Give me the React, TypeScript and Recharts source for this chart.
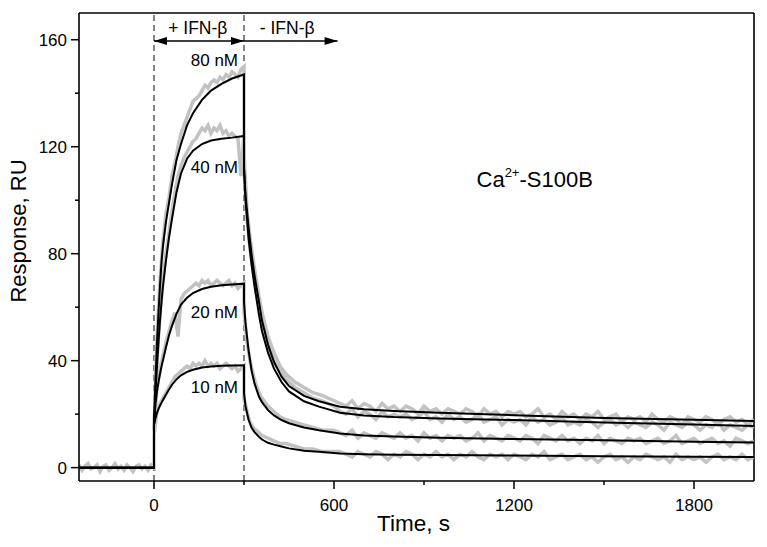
import React from "react";
import { LineChart, Line, XAxis, YAxis, ReferenceLine, ReferenceDot } from "recharts";

// time points (s)
const baseFitT = [-250, 0];
const assocFitT = [0, 5, 10, 15, 20, 25, 30, 40, 50, 60, 75, 90, 110, 130, 160, 190, 225, 260, 300];
const dissFitT = [300, 305, 315, 325, 335, 350, 360, 380, 400, 425, 450, 500, 550, 620, 700, 800, 950, 1200, 1500, 1800, 2000];

// fitted curves (RU)
const fit80Assoc = [17, 33, 47, 58, 68, 77, 83, 92, 99, 106, 115, 121, 128, 132.5, 137.5, 141, 143.5, 145.5, 147];
const fit40Assoc = [17, 28, 38, 47, 55, 62, 68, 77.6, 86, 93, 103, 110, 115.5, 118.5, 121, 122.3, 123, 123.4, 124];
const fit20Assoc = [16, 24, 28.5, 32, 35, 37.8, 40.2, 45, 49.5, 53, 57.5, 61, 63.5, 65.3, 66.8, 67.6, 68.2, 68.5, 68.8];
const fit10Assoc = [16, 18.5, 20.5, 22, 23.2, 24.3, 25.3, 27.3, 29.2, 31, 33, 34.5, 35.8, 36.6, 37.4, 37.8, 38.1, 38.2, 38.3];

const fit80Diss = [112, 102, 90, 80, 72, 62, 55, 46, 39.5, 34, 30.5, 26.8, 24.8, 22.8, 21.8, 21.2, 20.5, 19.6, 18.6, 17.9, 17.4];
const fit40Diss = [112, 100, 86, 76, 68, 57, 51, 43, 37, 32, 28.5, 24.8, 22.8, 20.5, 19.5, 18.9, 18.4, 17.8, 16.9, 16.1, 15.6];
const fit20Diss = [62, 54, 44, 36.5, 31.5, 26.5, 24.5, 21.5, 19.5, 17.8, 16.6, 15, 14, 12.8, 12, 11.6, 11.2, 10.7, 10.2, 9.7, 9.4];
const fit10Diss = [27.8, 23, 18, 15, 13.3, 11.5, 10.5, 9.3, 8.6, 7.9, 7.2, 6.3, 5.9, 5.3, 5, 4.8, 4.7, 4.5, 4.3, 4.1, 4.0];

// measured traces (RU)
const expBaseT = [-250, -240, -230, -220, -210, -200, -190, -180, -170, -160, -150, -140, -130, -120, -110, -100, -90, -80, -70, -60, -50, -40, -30, -20, -10, 0];
const expBase = [1, -1, 0.5, 1.5, -0.5, 0, 1, -1.5, 0.5, 1, -1, 0, 1.5, -0.5, 0.5, -1, 1, 0, -1.5, 0.5, 1, -0.5, 0.5, -1, 1, 0];

const expAssocT = [0, 10, 20, 30, 40, 50, 60, 70, 80, 90, 100, 110, 120, 130, 140, 150, 160, 170, 180, 190, 200, 210, 220, 230, 240, 250, 260, 270, 280, 290, 300];
const exp80Assoc = [14, 49, 70, 85, 95, 101, 109, 114, 120, 125, 128, 131, 134, 137, 138, 139, 141, 143, 142, 144, 145, 144, 146, 145, 147, 146, 148, 147, 146, 149, 150];
const exp40Assoc = [14, 40, 57, 70, 80, 88, 96, 103, 109, 113, 116, 118, 120, 122, 123, 125, 127, 126, 128, 125, 127, 126, 128, 125, 126, 124, 125, 124, 123, 109, 125];
const exp20Assoc = [13, 30, 37, 42, 47, 51, 55, 58, 49, 63, 65, 66, 67, 68, 69, 68, 70, 69, 70, 68, 69, 70, 69, 68, 69, 70, 68, 69, 67, 68, 69];
const exp10Assoc = [12, 21, 24, 26, 28, 30, 32, 34, 35, 36, 37, 38, 37, 39, 38, 39, 38, 40, 38, 39, 38, 39, 37, 38, 39, 38, 37, 38, 36, 37, 38];

const expDissT = [300, 310, 320, 330, 340, 350, 360, 380, 400, 420, 440, 470, 500, 530, 560, 600,
  620, 640, 660, 680, 700, 720, 740, 760, 780, 800,
  820, 840, 860, 880, 900, 920, 940, 960, 980, 1000,
  1020, 1040, 1060, 1080, 1100, 1120, 1140, 1160, 1180, 1200,
  1220, 1240, 1260, 1280, 1300, 1320, 1340, 1360, 1380, 1400,
  1420, 1440, 1460, 1480, 1500, 1520, 1540, 1560, 1580, 1600,
  1620, 1640, 1660, 1680, 1700, 1720, 1740, 1760, 1780, 1800,
  1820, 1840, 1860, 1880, 1900, 1920, 1940, 1960, 1980, 2000];
const exp80Diss = [118, 96, 86, 78, 71, 64, 58, 49, 43, 38, 35, 32, 30, 28, 27, 25,
  24, 23, 25, 22, 24, 23, 21, 24, 22, 23,
  21, 23, 22, 20, 23, 21, 22, 20, 22, 21,
  20, 22, 21, 19, 22, 20, 21, 19, 21, 20,
  21, 19, 20, 22, 19, 20, 18, 21, 19, 20,
  18, 20, 19, 21, 18, 19, 20, 17, 19, 18,
  19, 17, 20, 18, 17, 19, 18, 16, 19, 18,
  17, 19, 18, 16, 18, 19, 17, 18, 16, 18];
const exp40Diss = [112, 93, 82, 74, 66, 60, 54, 46, 40, 36, 33, 30, 28, 26, 25, 23,
  21, 20, 22, 19, 21, 20, 18, 21, 19, 20,
  19, 20, 18, 19, 21, 18, 19, 17, 20, 18,
  19, 17, 18, 20, 17, 18, 19, 16, 18, 17,
  18, 16, 19, 17, 18, 16, 17, 19, 16, 17,
  16, 18, 17, 15, 17, 18, 16, 17, 15, 17,
  16, 15, 17, 16, 14, 17, 16, 15, 17, 16,
  14, 16, 15, 17, 14, 16, 15, 14, 16, 15];
const exp20Diss = [58, 47, 40, 35, 31, 28, 26, 23, 21, 19, 18, 17, 16, 15, 14, 14,
  13, 12, 14, 11, 13, 12, 11, 13, 12, 11,
  13, 11, 12, 10, 13, 11, 12, 10, 12, 11,
  12, 10, 11, 13, 10, 12, 11, 10, 12, 11,
  10, 12, 11, 9, 12, 11, 10, 12, 10, 11,
  9, 11, 10, 12, 9, 11, 10, 9, 11, 10,
  11, 9, 10, 11, 9, 10, 12, 9, 10, 11,
  9, 10, 11, 9, 10, 8, 11, 10, 9, 10];
const exp10Diss = [26, 21, 17, 15, 14, 13, 12, 11, 10, 9, 9, 8, 7, 7, 6, 6,
  6, 5, 4, 6, 5, 4, 6, 5, 3, 5,
  4, 6, 5, 3, 5, 4, 6, 4, 5, 3,
  5, 4, 6, 4, 3, 5, 4, 5, 3, 5,
  4, 3, 5, 4, 6, 3, 4, 5, 3, 4,
  5, 3, 4, 2, 4, 5, 3, 4, 2, 4,
  3, 5, 4, 3, 4, 2, 5, 3, 4, 3,
  4, 2, 4, 5, 3, 4, 3, 5, 3, 4];

const xTicks = [0, 300, 600, 900, 1200, 1500, 1800];
const yTicks = [0, 20, 40, 60, 80, 100, 120, 140, 160];

const font = "'Liberation Sans', Arial, sans-serif";

const pts = (ts: number[], vs: number[]) => ts.map((t, i) => ({ t, v: vs[i] }));

const fitCurve = (a: number[], d: number[]) => [
  ...pts(baseFitT, [0, 0]),
  ...pts(assocFitT, a),
  ...pts(dissFitT, d),
];
const expCurve = (a: number[], d: number[], withBase: boolean) => [
  ...(withBase ? pts(expBaseT, expBase) : []),
  ...pts(expAssocT, a),
  ...pts(expDissT, d),
];

const fits = [
  fitCurve(fit80Assoc, fit80Diss),
  fitCurve(fit40Assoc, fit40Diss),
  fitCurve(fit20Assoc, fit20Diss),
  fitCurve(fit10Assoc, fit10Diss),
];
const traces = [
  expCurve(exp80Assoc, exp80Diss, false),
  expCurve(exp40Assoc, exp40Diss, false),
  expCurve(exp20Assoc, exp20Diss, false),
  expCurve(exp10Assoc, exp10Diss, true),
];

const concLabels = [
  { text: "80 nM", x: 280, y: 150 },
  { text: "40 nM", x: 280, y: 110 },
  { text: "20 nM", x: 280, y: 56 },
  { text: "10 nM", x: 280, y: 28 },
];

const YTick = (props: any) => {
  const { x, y, payload } = props;
  const major = payload.value % 40 === 0;
  return (
    <g>
      <line x1={x} y1={y} x2={x - (major ? 8 : 4)} y2={y} stroke="#000" strokeWidth={1.5} />
      {major && (
        <text x={x - 12} y={y + 6} textAnchor="end" fontSize={17} fontFamily={font} fill="#000">
          {payload.value}
        </text>
      )}
    </g>
  );
};

const XTick = (props: any) => {
  const { x, y, payload } = props;
  const major = payload.value % 600 === 0;
  return (
    <g>
      <line x1={x} y1={y} x2={x} y2={y + (major ? 8 : 4)} stroke="#000" strokeWidth={1.5} />
      {major && (
        <text x={x} y={y + 30} textAnchor="middle" fontSize={17} fontFamily={font} fill="#000">
          {payload.value}
        </text>
      )}
    </g>
  );
};

const Arrow = (both: boolean) => (p: any) => {
  const { x1, y1, x2 } = p;
  return (
    <g>
      <line x1={x1} y1={y1} x2={x2} y2={y1} stroke="#000" strokeWidth={1.5} />
      <polygon points={`${x2},${y1} ${x2 - 13},${y1 - 4} ${x2 - 13},${y1 + 4}`} fill="#000" />
      {both && <polygon points={`${x1},${y1} ${x1 + 13},${y1 - 4} ${x1 + 13},${y1 + 4}`} fill="#000" />}
    </g>
  );
};

export default function App() {
  return (
    <div style={{ position: "absolute", left: 0, top: 0, background: "#fff" }}>
      <LineChart width={767} height={547} margin={{ top: 13, right: 13, bottom: 0, left: 0 }}>
        <XAxis
          type="number"
          dataKey="t"
          domain={[-250, 2000]}
          allowDataOverflow
          ticks={xTicks}
          interval={0}
          tickSize={0}
          tickMargin={0}
          tickLine={false}
          tick={<XTick />}
          height={66}
          axisLine={{ stroke: "#000", strokeWidth: 1.6 }}
          label={{
            content: (p: any) => (
              <text x={p.viewBox.x + p.viewBox.width / 2 - 3} y={p.viewBox.y + 50} textAnchor="middle" fontSize={22.5} fontFamily={font} fill="#000">
                Time, s
              </text>
            ),
          }}
        />
        <YAxis
          type="number"
          domain={[-5, 170]}
          allowDataOverflow
          ticks={yTicks}
          interval={0}
          tickSize={0}
          tickMargin={0}
          tickLine={false}
          tick={<YTick />}
          width={79}
          axisLine={{ stroke: "#000", strokeWidth: 1.6 }}
          label={{
            content: (p: any) => (
              <text
                transform={`translate(${p.viewBox.x + 26},${p.viewBox.y + p.viewBox.height / 2 - 16}) rotate(-90)`}
                textAnchor="middle"
                fontSize={22}
                fontFamily={font}
                fill="#000"
              >
                Response, RU
              </text>
            ),
          }}
        />
        <ReferenceLine y={170} stroke="#000" strokeWidth={1.6} ifOverflow="visible" />
        <ReferenceLine x={2000} stroke="#000" strokeWidth={1.6} ifOverflow="visible" />
        <ReferenceLine x={0} stroke="#333" strokeWidth={1.2} strokeDasharray="6 4" />
        <ReferenceLine x={300} stroke="#333" strokeWidth={1.2} strokeDasharray="6 4" />
        {traces.map((d, i) => (
          <Line key={"exp" + i} data={d} dataKey="v" type="linear" dot={false} stroke="#c2c2c2" strokeWidth={3.5} isAnimationActive={false} />
        ))}
        {fits.map((d, i) => (
          <Line key={"fit" + i} data={d} dataKey="v" type="linear" dot={false} stroke="#000" strokeWidth={2} isAnimationActive={false} />
        ))}
        <ReferenceLine segment={[{ x: 0, y: 159.5 }, { x: 300, y: 159.5 }]} shape={Arrow(true)} ifOverflow="visible" />
        <ReferenceLine segment={[{ x: 300, y: 159.5 }, { x: 612, y: 159.5 }]} shape={Arrow(false)} ifOverflow="visible" />
        <ReferenceDot
          x={146}
          y={162.3}
          r={0}
          shape={(p: any) => (
            <text x={p.cx} y={p.cy} textAnchor="middle" fontSize={17.5} fontFamily={font} fill="#000">+ IFN-β</text>
          )}
        />
        <ReferenceDot
          x={444}
          y={162.3}
          r={0}
          shape={(p: any) => (
            <text x={p.cx} y={p.cy} textAnchor="middle" fontSize={17.5} fontFamily={font} fill="#000">- IFN-β</text>
          )}
        />
        {concLabels.map((c) => (
          <ReferenceDot
            key={c.text}
            x={c.x}
            y={c.y}
            r={0}
            shape={(p: any) => (
              <text x={p.cx} y={p.cy} textAnchor="end" fontSize={17} fontFamily={font} fill="#000">{c.text}</text>
            )}
          />
        ))}
        <ReferenceDot
          x={1075}
          y={105}
          r={0}
          shape={(p: any) => (
            <text x={p.cx} y={p.cy} fontSize={22} fontFamily={font} fill="#000">
              Ca<tspan fontSize={13} dy={-10}>2+</tspan>
              <tspan dy={10}>-S100B</tspan>
            </text>
          )}
        />
      </LineChart>
    </div>
  );
}
